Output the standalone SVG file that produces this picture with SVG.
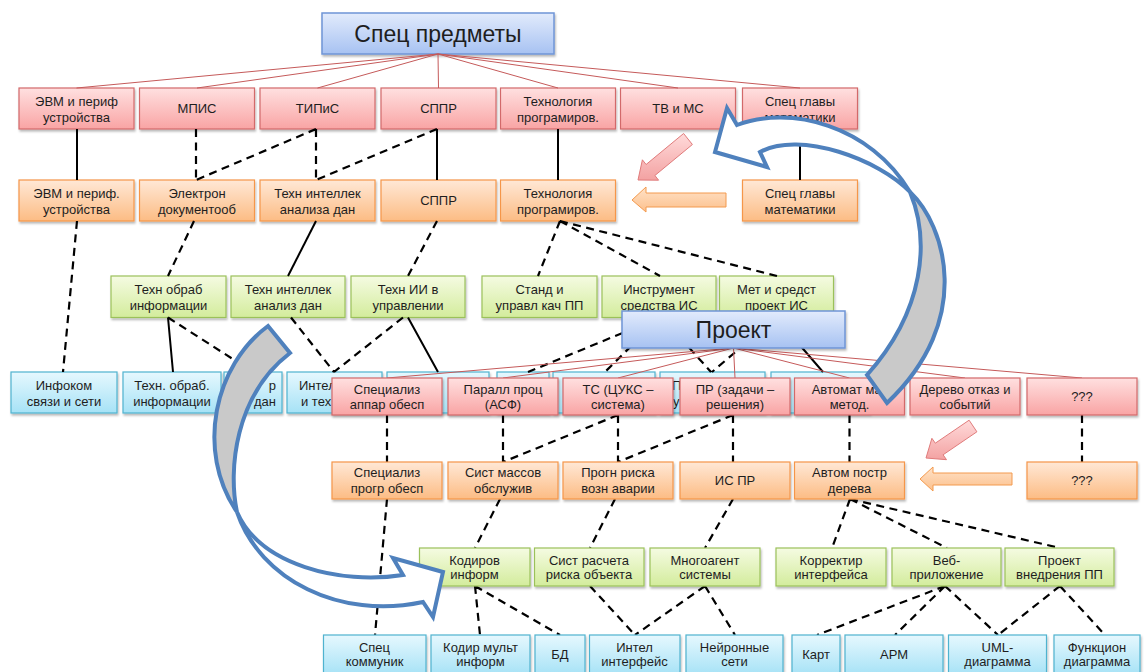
<svg xmlns="http://www.w3.org/2000/svg" width="1144" height="672" viewBox="0 0 1144 672">
<defs>
<linearGradient id="gR" x1="0" y1="0" x2="0" y2="1"><stop offset="0" stop-color="#FFE0E0"/><stop offset="1" stop-color="#F9A4A4"/></linearGradient>
<linearGradient id="gO" x1="0" y1="0" x2="0" y2="1"><stop offset="0" stop-color="#FFE8D6"/><stop offset="1" stop-color="#FCBC84"/></linearGradient>
<linearGradient id="gG" x1="0" y1="0" x2="0" y2="1"><stop offset="0" stop-color="#F5FBE2"/><stop offset="1" stop-color="#D3EC9C"/></linearGradient>
<linearGradient id="gB" x1="0" y1="0" x2="0" y2="1"><stop offset="0" stop-color="#E6F8FE"/><stop offset="1" stop-color="#A6E2F6"/></linearGradient>
<linearGradient id="gT" x1="0" y1="0" x2="0" y2="1"><stop offset="0" stop-color="#E2EBFC"/><stop offset="1" stop-color="#A7C2F2"/></linearGradient>
<linearGradient id="gPa" x1="0" y1="0" x2="0" y2="1"><stop offset="0" stop-color="#FFDADA"/><stop offset="1" stop-color="#F3A2A2"/></linearGradient>
<linearGradient id="gOa" x1="0" y1="0" x2="0" y2="1"><stop offset="0" stop-color="#FFE2C8"/><stop offset="1" stop-color="#FCC08C"/></linearGradient>
<filter id="sh" x="-10%" y="-20%" width="120%" height="150%"><feDropShadow dx="1" dy="2" stdDeviation="1.2" flood-color="#000" flood-opacity="0.28"/></filter>
<style>
.r{fill:url(#gR);stroke:#D2696B;stroke-width:1.2;filter:url(#sh)}
.o{fill:url(#gO);stroke:#F5964A;stroke-width:1.2;filter:url(#sh)}
.g{fill:url(#gG);stroke:#9BC15A;stroke-width:1.2;filter:url(#sh)}
.b{fill:url(#gB);stroke:#4FB3CF;stroke-width:1.2;filter:url(#sh)}
.tb{fill:url(#gT);stroke:#6F95D6;stroke-width:1.5;filter:url(#sh)}
text{font-family:"Liberation Sans",Arial,sans-serif;fill:#1E1E1E;text-anchor:middle;dominant-baseline:central}
.t{font-size:13px}
.big{font-size:23px}
.st{text-anchor:start}
.en{text-anchor:end}
.rl{stroke:#C55A5A;stroke-width:1;fill:none}
.sl{stroke:#000;stroke-width:2;fill:none}
.dl{stroke:#000;stroke-width:2.2;stroke-dasharray:8 5.5;fill:none}
.ca{stroke:#4F81BD;stroke-width:4;stroke-linejoin:miter}
.pa{fill:url(#gPa);stroke:#E07B7B;stroke-width:1}
.oa{fill:url(#gOa);stroke:#F39A4E;stroke-width:1}
</style>
</defs>
<rect width="1144" height="672" fill="#fff"/>

<g id="top-tree">
<g id="spec"><rect class="tb" x="322" y="13" width="232" height="41"/><text class="big" x="438" y="33.5">Спец предметы</text></g>

<g id="r1-evm"><rect class="r" x="19" y="88" width="115" height="41"/><text class="t" x="76.5" y="101.5">ЭВМ и периф</text><text class="t" x="76.5" y="117.5">устройства</text></g>
<g id="r1-mpis"><rect class="r" x="139.5" y="88" width="115" height="41"/><text class="t" x="197" y="108.5">МПИС</text></g>
<g id="r1-tipis"><rect class="r" x="260" y="88" width="115" height="41"/><text class="t" x="317.5" y="108.5">ТИПиС</text></g>
<g id="r1-sppr"><rect class="r" x="381" y="88" width="115" height="41"/><text class="t" x="438.5" y="108.5">СППР</text></g>
<g id="r1-tech"><rect class="r" x="500.5" y="88" width="115" height="41"/><text class="t" x="558" y="101.5">Технология</text><text class="t" x="558" y="117.5">програмиров.</text></g>
<g id="r1-tvms"><rect class="r" x="620.5" y="88" width="115" height="41"/><text class="t" x="678" y="108.5">ТВ и МС</text></g>
<g id="r1-math"><rect class="r" x="742.5" y="88" width="115" height="41"/><text class="t" x="800" y="101.5">Спец главы</text><text class="t" x="800" y="117.5">математики</text></g>

<g id="o1-evm"><rect class="o" x="19" y="180" width="115" height="41"/><text class="t" x="76.5" y="193.5">ЭВМ и периф.</text><text class="t" x="76.5" y="209.5">устройства</text></g>
<g id="o1-edoc"><rect class="o" x="139.5" y="180" width="115" height="41"/><text class="t" x="197" y="193.5">Электрон</text><text class="t" x="197" y="209.5">документооб</text></g>
<g id="o1-tia"><rect class="o" x="260" y="180" width="115" height="41"/><text class="t" x="317.5" y="193.5">Техн интеллек</text><text class="t" x="317.5" y="209.5">анализа дан</text></g>
<g id="o1-sppr"><rect class="o" x="381" y="180" width="115" height="41"/><text class="t" x="438.5" y="200.5">СППР</text></g>
<g id="o1-tech"><rect class="o" x="500.5" y="180" width="115" height="41"/><text class="t" x="558" y="193.5">Технология</text><text class="t" x="558" y="209.5">програмиров.</text></g>
<g id="o1-math"><rect class="o" x="742.5" y="180" width="115" height="41"/><text class="t" x="800" y="193.5">Спец главы</text><text class="t" x="800" y="209.5">математики</text></g>

<g id="g1-obr"><rect class="g" x="111" y="276" width="115" height="41.5"/><text class="t" x="168.5" y="289.5">Техн обраб</text><text class="t" x="168.5" y="305">информации</text></g>
<g id="g1-tia"><rect class="g" x="231" y="276" width="114" height="41.5"/><text class="t" x="288" y="289.5">Техн интеллек</text><text class="t" x="288" y="305">анализ дан</text></g>
<g id="g1-tii"><rect class="g" x="351" y="276" width="114" height="41.5"/><text class="t" x="408" y="289.5">Техн ИИ в</text><text class="t" x="408" y="305">управлении</text></g>
<g id="g1-stand"><rect class="g" x="482" y="276" width="115" height="41.5"/><text class="t" x="539.5" y="289.5">Станд и</text><text class="t" x="539.5" y="305">управл  кач ПП</text></g>
<g id="g1-instr"><rect class="g" x="602" y="276" width="114" height="41.5"/><text class="t" x="659" y="289.5">Инструмент</text><text class="t" x="659" y="305">средства ИС</text></g>
<g id="g1-met"><rect class="g" x="719.5" y="276" width="114" height="41.5"/><text class="t" x="776.5" y="289.5">Мет и средст</text><text class="t" x="776.5" y="305">проект ИС</text></g>

<g id="b1-infokom"><rect class="b" x="11" y="372" width="106" height="41"/><text class="t" x="64" y="385.5">Инфоком</text><text class="t" x="64" y="401">связи и сети</text></g>
<g id="b1-obr"><rect class="b" x="123" y="372" width="98" height="41"/><text class="t" x="172" y="385.5">Техн. обраб.</text><text class="t" x="172" y="401">информации</text></g>
<g id="b1-dan"><rect class="b" x="224" y="372" width="58" height="41"/><text class="t en" x="276" y="385.5">р</text><text class="t en" x="276" y="401">дан</text></g>
<g id="b1-intel"><rect class="b" x="287" y="372" width="95" height="41"/><text class="t st" x="299" y="385.5">Интел</text><text class="t st" x="301" y="401">и тех</text></g>
<g id="b1-5"><rect class="b" x="387" y="372" width="102" height="41"/></g>
<g id="b1-6"><rect class="b" x="497" y="372" width="52" height="41"/></g>
<g id="b1-7"><rect class="b" x="553" y="372" width="102" height="41"/></g>
<g id="b1-8"><rect class="b" x="660" y="372" width="105" height="41"/><text class="t st" x="672" y="385.5">П</text><text class="t st" x="673" y="401">у</text></g>
<g id="b1-9"><rect class="b" x="771" y="372" width="99" height="41"/></g>
</g>

<g id="connectors">
<path class="rl" d="M438,54 L76.5,88 M438,54 L197,88 M438,54 L317.5,88 M438,54 L438.5,88 M438,54 L558,88 M438,54 L678,88 M438,54 L800,88"/>
<path class="sl" d="M77,129 V180 M437,129 V180 M558,129 V180 M800,129 V180"/>
<path class="dl" d="M196,129 V180 M316,129 V180 M316,129 L196,180 M437,129 L316,180"/>
<path class="dl" d="M77,221 L63,372 M194,221 L168,276 M437,221 L408,276 M560,221 L538,276 M560,221 L660,276 M560,221 L777,276"/>
<path class="sl" d="M316,221 L288,276"/>
<path class="sl" d="M168,317.5 L173,372 M408,317.5 L438,372 M776,317.5 L823,372"/>
<path class="dl" d="M168,317.5 L253,372 M291,317.5 L334,372 M403,317.5 L334,372 M660,317.5 L528,372 M660,317.5 L605,372 M662,317.5 L711,372 M776,317.5 L712,372"/>
<path class="rl" d="M733.5,348 L387,378 M733.5,348 L503,378 M733.5,348 L618,378 M733.5,348 L735,378 M733.5,348 L849.5,378 M733.5,348 L965,378 M733.5,348 L1082,378"/>
<path class="dl" d="M387,415 V462 M503,415 V462 M618,415 L503,462 M618,415 V462 M733,415 L618,462 M733,415 V462 M849.5,415 V462 M1082,415 V462"/>
<path class="dl" d="M387,499 L375,635 M500,499 L475,548 M615,499 L590,548 M733,499 L705,548 M850,499 L832,548 M850,499 L947,548 M850,499 L1060,548"/>
<path class="dl" d="M475,586 L480,635 M475,586 L560,635 M590,586 L635,635 M705,586 L635,635 M705,586 L735,635 M945,586 L817,635 M945,586 L895,635 M945,586 L998,635 M1060,586 L998,635 M1060,586 L1105,635"/>
</g>

<g id="bottom-tree">
<g id="proekt"><rect class="tb" x="622" y="311" width="223" height="37"/><text class="big" x="733.5" y="329.5">Проект</text></g>

<g id="r2-spa"><rect class="r" x="332" y="378" width="110" height="37"/><text class="t" x="387" y="389.5">Специализ</text><text class="t" x="387" y="404">аппар обесп</text></g>
<g id="r2-par"><rect class="r" x="448" y="378" width="110" height="37"/><text class="t" x="503" y="389.5">Паралл  проц</text><text class="t" x="503" y="404">(АСФ)</text></g>
<g id="r2-ts"><rect class="r" x="563" y="378" width="110" height="37"/><text class="t" x="618" y="389.5">ТС (ЦУКС –</text><text class="t" x="618" y="404">система)</text></g>
<g id="r2-pr"><rect class="r" x="680" y="378" width="110" height="37"/><text class="t" x="735" y="389.5">ПР (задачи –</text><text class="t" x="735" y="404">решения)</text></g>
<g id="r2-avt"><rect class="r" x="794.5" y="378" width="110" height="37"/><text class="t" x="849.5" y="389.5">Автомат мат</text><text class="t" x="849.5" y="404">метод.</text></g>
<g id="r2-der"><rect class="r" x="910" y="378" width="110" height="37"/><text class="t" x="965" y="389.5">Дерево отказ и</text><text class="t" x="965" y="404">событий</text></g>
<g id="r2-q"><rect class="r" x="1027" y="378" width="110" height="37"/><text class="t" x="1082" y="396.5">???</text></g>

<g id="o2-spp"><rect class="o" x="332" y="462" width="110" height="37"/><text class="t" x="387" y="472.5">Специализ</text><text class="t" x="387" y="488">прогр обесп</text></g>
<g id="o2-smo"><rect class="o" x="448" y="462" width="110" height="37"/><text class="t" x="503" y="472.5">Сист массов</text><text class="t" x="503" y="488">обслужив</text></g>
<g id="o2-prog"><rect class="o" x="563" y="462" width="110" height="37"/><text class="t" x="618" y="472.5">Прогн риска</text><text class="t" x="618" y="488">возн аварии</text></g>
<g id="o2-ispr"><rect class="o" x="680" y="462" width="110" height="37"/><text class="t" x="735" y="480.5">ИС ПР</text></g>
<g id="o2-avt"><rect class="o" x="794.5" y="462" width="110" height="37"/><text class="t" x="849.5" y="472.5">Автом постр</text><text class="t" x="849.5" y="488">дерева</text></g>
<g id="o2-q"><rect class="o" x="1027" y="462" width="110" height="37"/><text class="t" x="1082" y="480.5">???</text></g>

<g id="g2-kod"><rect class="g" x="419.5" y="548" width="110.5" height="38"/><text class="t" x="474.5" y="560">Кодиров</text><text class="t" x="474.5" y="574.5">информ</text></g>
<g id="g2-sist"><rect class="g" x="534.5" y="548" width="109.5" height="38"/><text class="t" x="589" y="560">Сист расчета</text><text class="t" x="589" y="574.5">риска объекта</text></g>
<g id="g2-mnog"><rect class="g" x="650" y="548" width="110" height="38"/><text class="t" x="705" y="560">Многоагент</text><text class="t" x="705" y="574.5">системы</text></g>
<g id="g2-korr"><rect class="g" x="776" y="548" width="110" height="38"/><text class="t" x="831" y="560">Корректир</text><text class="t" x="831" y="574.5">интерфейса</text></g>
<g id="g2-veb"><rect class="g" x="892" y="548" width="109" height="38"/><text class="t" x="946.5" y="560">Веб-</text><text class="t" x="946.5" y="574.5">приложение</text></g>
<g id="g2-pvpp"><rect class="g" x="1005" y="548" width="109" height="38"/><text class="t" x="1059.5" y="560">Проект</text><text class="t" x="1059.5" y="574.5">внедрения ПП</text></g>

<g id="b2-spk"><rect class="b" x="323.5" y="635" width="102.5" height="40"/><text class="t" x="374.5" y="647">Спец</text><text class="t" x="374.5" y="661.5">коммуник</text></g>
<g id="b2-kmi"><rect class="b" x="431" y="635" width="99" height="40"/><text class="t" x="480.5" y="647">Кодир мульт</text><text class="t" x="480.5" y="661.5">информ</text></g>
<g id="b2-bd"><rect class="b" x="535" y="635" width="50" height="40"/><text class="t" x="560" y="654">БД</text></g>
<g id="b2-ii"><rect class="b" x="589.5" y="635" width="90.5" height="40"/><text class="t" x="634.5" y="647">Интел</text><text class="t" x="634.5" y="661.5">интерфейс</text></g>
<g id="b2-ns"><rect class="b" x="686" y="635" width="97" height="40"/><text class="t" x="734.5" y="647">Нейронные</text><text class="t" x="734.5" y="661.5">сети</text></g>
<g id="b2-kart"><rect class="b" x="792" y="635" width="48" height="40"/><text class="t" x="816" y="654">Карт</text></g>
<g id="b2-arm"><rect class="b" x="845" y="635" width="98" height="40"/><text class="t" x="894" y="654">АРМ</text></g>
<g id="b2-uml"><rect class="b" x="948.5" y="635" width="98" height="40"/><text class="t" x="997.5" y="647">UML-</text><text class="t" x="997.5" y="661.5">диаграмма</text></g>
<g id="b2-func"><rect class="b" x="1054" y="635" width="86" height="40"/><text class="t" x="1097" y="647">Функцион</text><text class="t" x="1097" y="661.5">диаграмма</text></g>
</g>

<g id="block-arrows">
<polygon class="pa" points="683.6,133.5 692.4,144.5 654.9,175.5 658.6,180.2 638,180 642.4,159.8 646.1,164.5"/>
<path class="oa" d="M726,193 L646,193 L646,187 L632,200 L646,212 L646,207 L726,207 Z"/>
<polygon class="pa" points="969.1,420.2 976.9,431.8 943.1,454.8 946.5,459.7 926,458 931.9,438.3 935.3,443.2"/>
<path class="oa" d="M1012,473 L933,473 L933,467 L920,479 L933,491 L933,485 L1012,485 Z"/>
</g>

<g id="curved-arrows">
<path class="ca" fill="#C9C9C9" d="M910,192 C945,225 975,320 887,403 L867,375 C925,310 930,240 910,192 Z"/>
<path class="ca" fill="#FFFFFF" d="M737,125 C790,105 870,125 910,192 C880,160 800,130 760,152 L767,167 L715,152 L727,108 Z"/>
<path class="ca" fill="#C9C9C9" d="M268,326 C215,365 195,450 237,512 C228,470 235,395 290,353 Z"/>
<path class="ca" fill="#FFFFFF" d="M237,512 C260,580 340,620 423,602 L433,617 L443,572 L393,558 L403,575 C340,585 260,565 237,512 Z"/>
</g>
</svg>
